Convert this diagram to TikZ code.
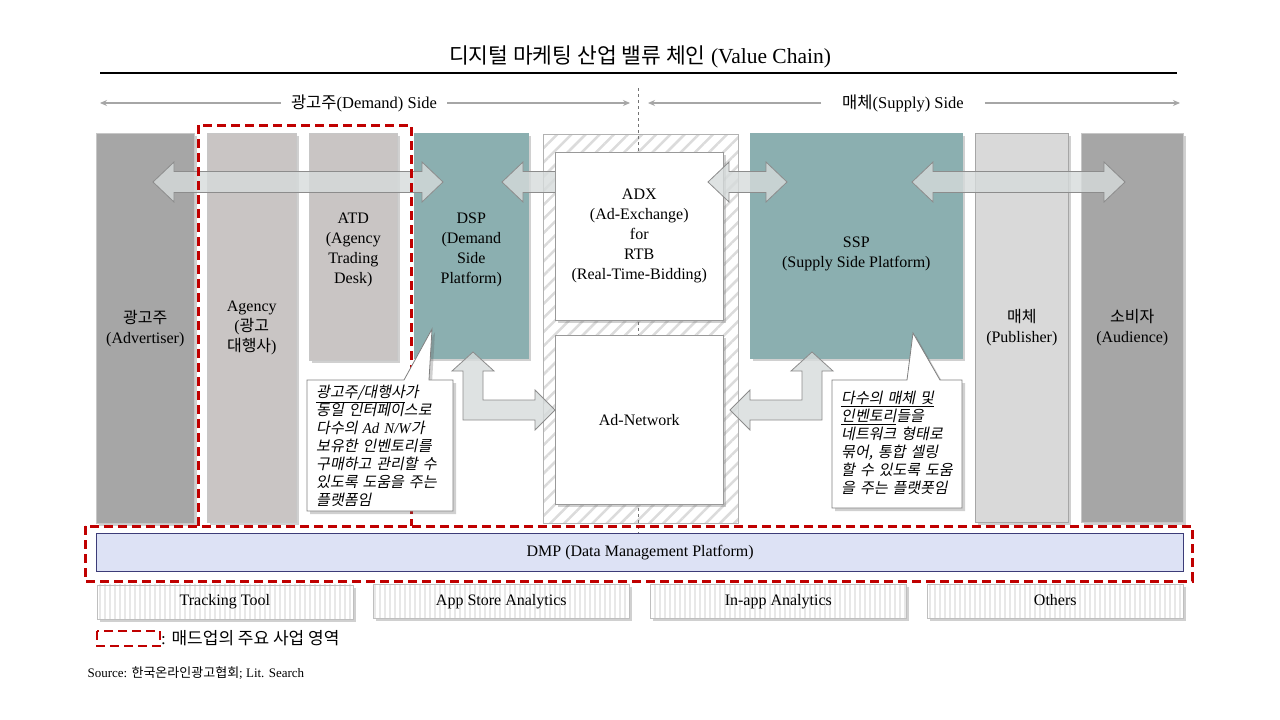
\documentclass[tikz,border=0pt]{standalone}
\usepackage{fontspec}
\setmainfont{Liberation Serif}
\newfontfamily\kr{Noto Sans CJK KR}
\newfontfamily\krit[FakeSlant=0.2]{Noto Sans CJK KR}
\usetikzlibrary{patterns.meta,shadows,arrows.meta}

\definecolor{advgray}{RGB}{166,166,166}
\definecolor{agygray}{RGB}{201,197,196}
\definecolor{dspteal}{RGB}{139,175,176}
\definecolor{pubgray}{RGB}{217,217,217}
\definecolor{arrowfill}{RGB}{214,219,219}
\definecolor{madupred}{RGB}{192,0,0}
\definecolor{dmpfill}{RGB}{221,226,245}
\definecolor{dmpline}{RGB}{60,60,120}

\tikzset{
  softshadow/.style={drop shadow={shadow xshift=3pt, shadow yshift=-3pt, opacity=0.3, fill=black!60}},
  column/.style={rectangle, anchor=north west, draw=black!22, line width=0.6, align=center,
    font=\fontsize{16}{20}\selectfont, softshadow},
  whitebox/.style={column, fill=white, draw=black!40},
  hatchcol/.style={rectangle, anchor=north west, draw=black!30, line width=0.6,
    preaction={fill=white}, pattern={Lines[angle=45,distance=10pt,line width=2.5pt]}, pattern color=black!14},
  botbox/.style={rectangle, anchor=north west, minimum width=256, minimum height=34, draw=black!25,
    line width=0.6, font=\fontsize{16}{18}\selectfont, text height=11pt, text depth=3pt, softshadow,
    preaction={fill=white}, pattern={Lines[angle=90,distance=5pt,line width=1.6pt]}, pattern color=black!9},
  blockarrow/.style={fill=arrowfill, fill opacity=0.8, draw=black!45, line width=0.8, line join=miter},
  sideline/.style={draw=black!35, line width=1.3, -{Stealth[length=7pt,width=6pt]}},
  sidelabel/.style={font=\fontsize{16.5}{18}\selectfont, inner xsep=10},
  madup/.style={draw=madupred, line width=3, dash pattern=on 9pt off 5pt},
  notebox/.style={fill=white, draw=black!50, line width=0.8, softshadow},
  notetext/.style={anchor=west, align=left, inner xsep=1, font=\krit\fontsize{15}{18}\selectfont},
}

\begin{document}
\begin{tikzpicture}[x=1pt,y=-1pt]
\def\dblarrow#1#2#3{\draw[blockarrow] (#1,#3) -- (#1+21,#3-20) -- (#1+21,#3-10.5) -- (#2-21,#3-10.5) -- (#2-21,#3-20) -- (#2,#3) -- (#2-21,#3+20) -- (#2-21,#3+10.5) -- (#1+21,#3+10.5) -- (#1+21,#3+20) -- cycle;}

\fill[white] (0,0) rectangle (1280,720);
\useasboundingbox (0,0) rectangle (1280,720);

\node[font=\fontsize{21.5}{24}\selectfont] (title) at (640,57) {{\kr 디지털 마케팅 산업 밸류 체인} (Value Chain)};
\draw[line width=1.6] (100,73) -- (1177,73);

\coordinate (dl) at (100,103);
\coordinate (dr) at (630,103);
\coordinate (sl) at (648,103);
\coordinate (sr) at (1180,103);
\node[sidelabel] (demand) at (364,103) {{\kr 광고주}(Demand) Side};
\node[sidelabel, inner xsep=21] (supply) at (903,103) {{\kr 매체}(Supply) Side};
\draw[sideline] (demand.west) -- (dl);
\draw[sideline] (demand.east) -- (dr);
\draw[sideline] (supply.west) -- (sl);
\draw[sideline] (supply.east) -- (sr);

\node[column, fill=advgray, minimum width=98, minimum height=390] (adv) at (96,133) {{\kr 광고주}\\(Advertiser)};
\node[column, fill=agygray, minimum width=89, minimum height=389] (agency) at (207,133) {Agency\\({\kr 광고}\\{\kr 대행사})};
\node[column, fill=agygray, minimum width=88, minimum height=227, text height=76.6pt] (atd) at (309,133) {ATD\\(Agency\\Trading\\Desk)};
\node[column, fill=dspteal, draw=dspteal, minimum width=114, minimum height=225, text height=78.6pt] (dsp) at (414,133) {DSP\\(Demand\\Side\\Platform)};
\node[hatchcol, minimum width=195, minimum height=389] (rtb) at (542,133) {};
\node[column, fill=dspteal, draw=dspteal, minimum width=212, minimum height=225, text height=46.6pt] (ssp) at (750,133) {SSP\\(Supply Side Platform)};
\node[column, fill=pubgray, draw=black!35, minimum width=93, minimum height=389] (pub) at (975,133) {{\kr 매체}\\(Publisher)};
\node[column, fill=advgray, minimum width=102, minimum height=389] (aud) at (1081,133) {{\kr 소비자}\\(Audience)};

\draw[dashed, black!55, line width=0.8] (638,88) -- (638,533);

\draw[blockarrow] (502,182) -- (523,162) -- (523,171.5) -- (556,171.5) -- (556,192.5) -- (523,192.5) -- (523,202) -- cycle;

\node[whitebox, minimum width=168, minimum height=168] (adx) at (555,152) {ADX\\(Ad-Exchange)\\for\\RTB\\(Real-Time-Bidding)};
\node[whitebox, minimum width=168, minimum height=169] (adnet) at (555,335) {Ad-Network};

\dblarrow{153}{443}{182}
\dblarrow{708}{787}{182}
\dblarrow{912}{1125}{182}
\draw[blockarrow] (473,352) -- (494,371) -- (483,371) -- (483,400) -- (535,400) -- (535,390) -- (555,410) -- (535,430) -- (535,420) -- (463,420) -- (463,371) -- (452,371) -- cycle;
\draw[blockarrow] (730,410) -- (750,390) -- (750,400) -- (802,400) -- (802,371) -- (791,371) -- (812,352) -- (833,371) -- (822,371) -- (822,420) -- (750,420) -- (750,430) -- cycle;

\draw[madup] (198,526) -- (198,125) -- (411,125) -- (411,526);
\draw[madup] (85,526) rectangle (1192,581);

\draw[notebox] (307,380) -- (404,380) -- (432,329) -- (429,380) -- (453,380) -- (453,511) -- (307,511) -- cycle;
\node[notetext, text width=136] (dspnote) at (315,446)
  {\underline{광고주/대행사}가\\동일 인터페이스로\\다수의 {\rmfamily\itshape Ad N/W}가\\보유한 인벤토리를\\구매하고 관리할 수\\있도록 도움을 주는\\플랫폼임};
\draw[notebox] (832,380) -- (907,380) -- (913,333) -- (940,380) -- (962,380) -- (962,508) -- (832,508) -- cycle;
\node[notetext, text width=120] (sspnote) at (840,443)
  {\underline{다수의 매체 및}\\\underline{인벤토리}들을\\네트워크 형태로\\묶어, 통합 셀링\\할 수 있도록 도움\\을 주는 플랫폿임};

\node[rectangle, anchor=north west, minimum width=1087, minimum height=38, fill=dmpfill, draw=dmpline,
  line width=1.2, font=\fontsize{16}{18}\selectfont] (dmp) at (96,533) {DMP (Data Management Platform)};

\node[botbox] (track) at (96,584) {Tracking Tool};
\node[botbox] (store) at (373,584) {App Store Analytics};
\node[botbox] (inapp) at (650,584) {In-app Analytics};
\node[botbox] (others) at (927,584) {Others};

\draw[madup, line width=2.5] (97,631) rectangle (160,646);
\node[anchor=west, inner sep=1, font=\fontsize{17}{18}\selectfont] (legend) at (160,638) {: {\kr 매드업의 주요 사업 영역}};
\node[anchor=west, font=\fontsize{13}{15}\selectfont] (source) at (84,673) {Source: {\kr 한국온라인광고협회}; Lit. Search};

\end{tikzpicture}
\end{document}
